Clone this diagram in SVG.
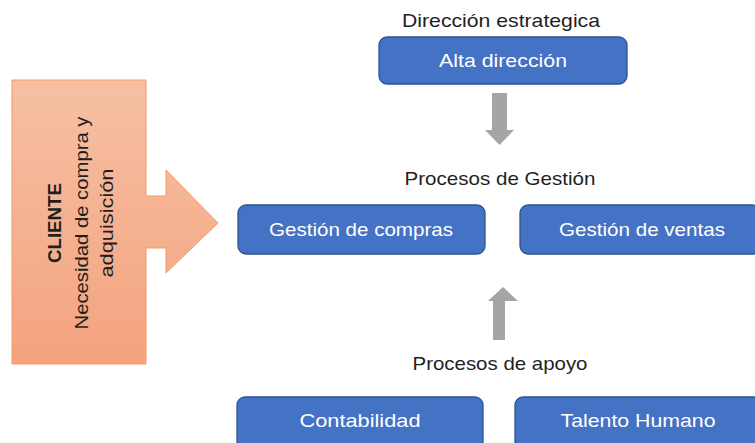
<svg xmlns="http://www.w3.org/2000/svg" width="755" height="443" viewBox="0 0 755 443">
<defs>
<linearGradient id="peach" x1="0" y1="0" x2="0" y2="1">
<stop offset="0" stop-color="#F6C0A4"/>
<stop offset="1" stop-color="#F4A37E"/>
</linearGradient>
</defs>
<style>
.box{fill:#4472C4;stroke:#2F528F;stroke-width:1.3}
.bt{font-family:"Liberation Sans",Arial,sans-serif;font-size:19px;fill:#FFFFFF;text-anchor:middle}
.lbl{font-family:"Liberation Sans",Arial,sans-serif;font-size:19px;fill:#1F1F1F;text-anchor:middle}
.arr{fill:#A5A5A5}
.ct{font-family:"Liberation Sans",Arial,sans-serif;font-size:19px;fill:#1F1F1F;text-anchor:middle}
</style>
<rect width="755" height="443" fill="#FFFFFF"/>
<g id="cliente">
<path d="M12,80 H146 V196 H166 V170 L218,223 L166,273 V248 H146 V364 H12 Z" fill="url(#peach)" stroke="#F19A67" stroke-width="1"/>
<text class="ct" transform="translate(61,223) rotate(-90)" font-weight="bold" textLength="80" lengthAdjust="spacingAndGlyphs">CLIENTE</text>
<text class="ct" transform="translate(88,223) rotate(-90)" textLength="213" lengthAdjust="spacingAndGlyphs">Necesidad de compra y</text>
<text class="ct" transform="translate(113,223) rotate(-90)" textLength="109" lengthAdjust="spacingAndGlyphs">adquisición</text>
</g>
<g id="lbl-direccion">
<text class="lbl" x="501" y="27" textLength="198" lengthAdjust="spacingAndGlyphs">Dirección estrategica</text>
</g>
<g id="alta-direccion">
<rect class="box" x="379" y="37" width="248" height="47" rx="8"/>
<text class="bt" x="503" y="67" textLength="128" lengthAdjust="spacingAndGlyphs">Alta dirección</text>
</g>
<g id="lbl-gestion">
<text class="lbl" x="500" y="185" textLength="191" lengthAdjust="spacingAndGlyphs">Procesos de Gestión</text>
</g>
<g id="gestion-compras">
<rect class="box" x="238" y="205" width="247" height="49" rx="8"/>
<text class="bt" x="361" y="236" textLength="184" lengthAdjust="spacingAndGlyphs">Gestión de compras</text>
</g>
<g id="gestion-ventas">
<rect class="box" x="520" y="205" width="240" height="49" rx="8"/>
<text class="bt" x="642" y="236" textLength="166" lengthAdjust="spacingAndGlyphs">Gestión de ventas</text>
</g>
<g id="lbl-apoyo">
<text class="lbl" x="500" y="370" textLength="175" lengthAdjust="spacingAndGlyphs">Procesos de apoyo</text>
</g>
<g id="contabilidad">
<rect class="box" x="237" y="397" width="246" height="54" rx="8"/>
<text class="bt" x="360" y="427" textLength="121" lengthAdjust="spacingAndGlyphs">Contabilidad</text>
</g>
<g id="talento-humano">
<rect class="box" x="515" y="397" width="250" height="54" rx="8"/>
<text class="bt" x="638" y="427" textLength="155" lengthAdjust="spacingAndGlyphs">Talento Humano</text>
</g>
<g id="connectors">
<path class="arr" d="M492,93 H507 V130 H514 L499.5,145 L485,130 H492 Z"/>
<path class="arr" d="M493,340 H505 V301 H518 L503,287 L488,301 H493 Z"/>
</g>
</svg>
